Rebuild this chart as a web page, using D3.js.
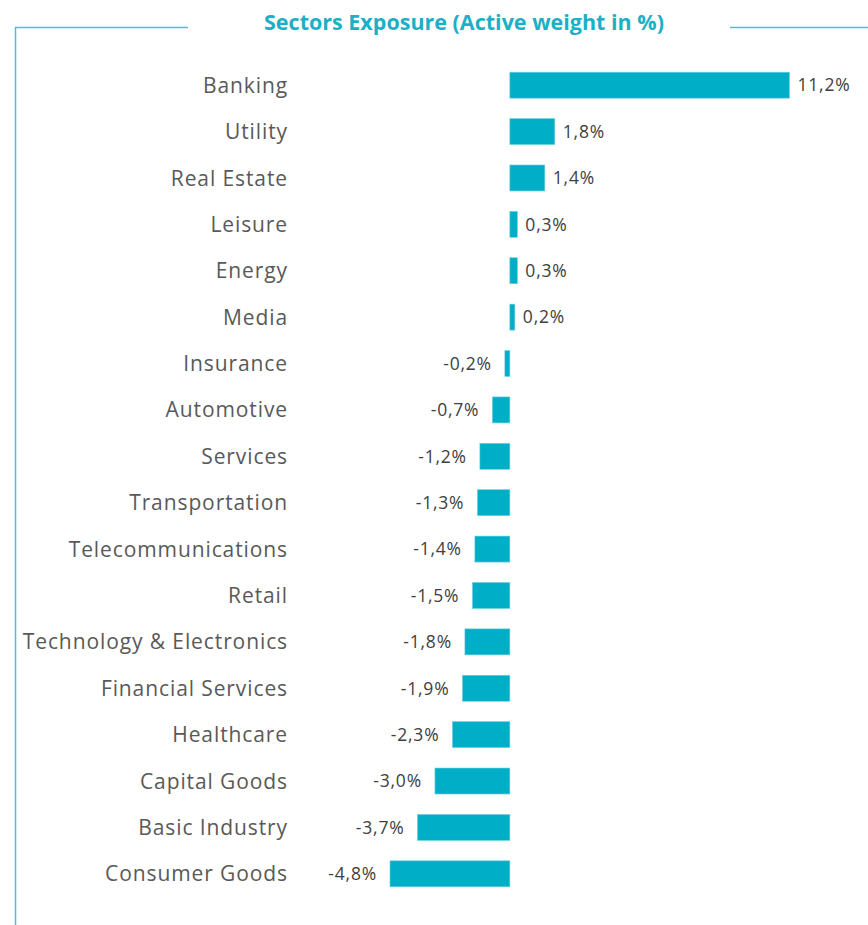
<!DOCTYPE html>
<html><head><meta charset="utf-8">
<script src="https://cdn.jsdelivr.net/npm/d3@7"></script>
<style>
html,body{margin:0;padding:0;background:#fff;}
svg{display:block;}
</style></head>
<body>
<svg id="chart" width="868" height="925"></svg>
<script>
const categories = ["Banking","Utility","Real Estate","Leisure","Energy","Media","Insurance","Automotive","Services","Transportation","Telecommunications","Retail","Technology & Electronics","Financial Services","Healthcare","Capital Goods","Basic Industry","Consumer Goods"];
const values = [11.2,1.8,1.4,0.3,0.3,0.2,-0.2,-0.7,-1.2,-1.3,-1.4,-1.5,-1.8,-1.9,-2.3,-3.0,-3.7,-4.8];
const title = "Sectors Exposure (Active weight in %)";

const svg = d3.select("#chart");
const W = 868, H = 925;
const barColor = "#00AEC7", frameColor = "#3EC6D8", titleColor = "#1BB0C6";

const x = d3.scaleLinear().domain([-4.8, 11.2]).range([390, 789.5]);
const y = d3.scaleBand().domain(categories).range([62, 897]).paddingInner(0.44).paddingOuter(0.22);

// frame
svg.append("line").attr("x1",15).attr("x2",188).attr("y1",27.5).attr("y2",27.5).attr("stroke",frameColor).attr("stroke-width",1.5);
svg.append("line").attr("x1",730).attr("x2",W).attr("y1",27.5).attr("y2",27.5).attr("stroke",frameColor).attr("stroke-width",1.5);
svg.append("line").attr("x1",15.5).attr("x2",15.5).attr("y1",27).attr("y2",H).attr("stroke",frameColor).attr("stroke-width",1.5);

svg.append("text").attr("x",464).attr("y",30).attr("text-anchor","middle")
  .attr("font-family","Open Sans").attr("font-weight","bold").attr("font-size",21.5)
  .attr("fill",titleColor).text(title);

const rows = categories.map((c,i)=>({c, v: values[i]}));

svg.selectAll("rect.bar").data(rows).join("rect").attr("class","bar")
  .attr("x", d => x(Math.min(0,d.v)))
  .attr("width", d => Math.abs(x(d.v)-x(0)))
  .attr("y", d => y(d.c)).attr("height", y.bandwidth())
  .attr("fill", barColor).attr("stroke","#6FCFDE").attr("stroke-width",0.6);

svg.selectAll("text.cat").data(rows).join("text").attr("class","cat")
  .attr("x", 288).attr("y", d => y(d.c)+y.bandwidth()/2).attr("dy","0.36em")
  .attr("text-anchor","end").attr("font-family","Open Sans").attr("font-size",21)
  .attr("letter-spacing",0.9)
  .attr("fill","#595959").text(d=>d.c);

const fmt = v => v.toFixed(1).replace(".", ",") + "%";
svg.selectAll("text.val").data(rows).join("text").attr("class","val")
  .attr("x", d => d.v >= 0 ? x(d.v)+8 : x(d.v)-13)
  .attr("y", d => y(d.c)+y.bandwidth()/2).attr("dy","0.36em")
  .attr("text-anchor", d => d.v >= 0 ? "start" : "end")
  .attr("font-family","Open Sans").attr("font-size",17.5).attr("letter-spacing",0.8)
  .attr("fill","#404040").text(d=>fmt(d.v));
</script>
</body></html>
